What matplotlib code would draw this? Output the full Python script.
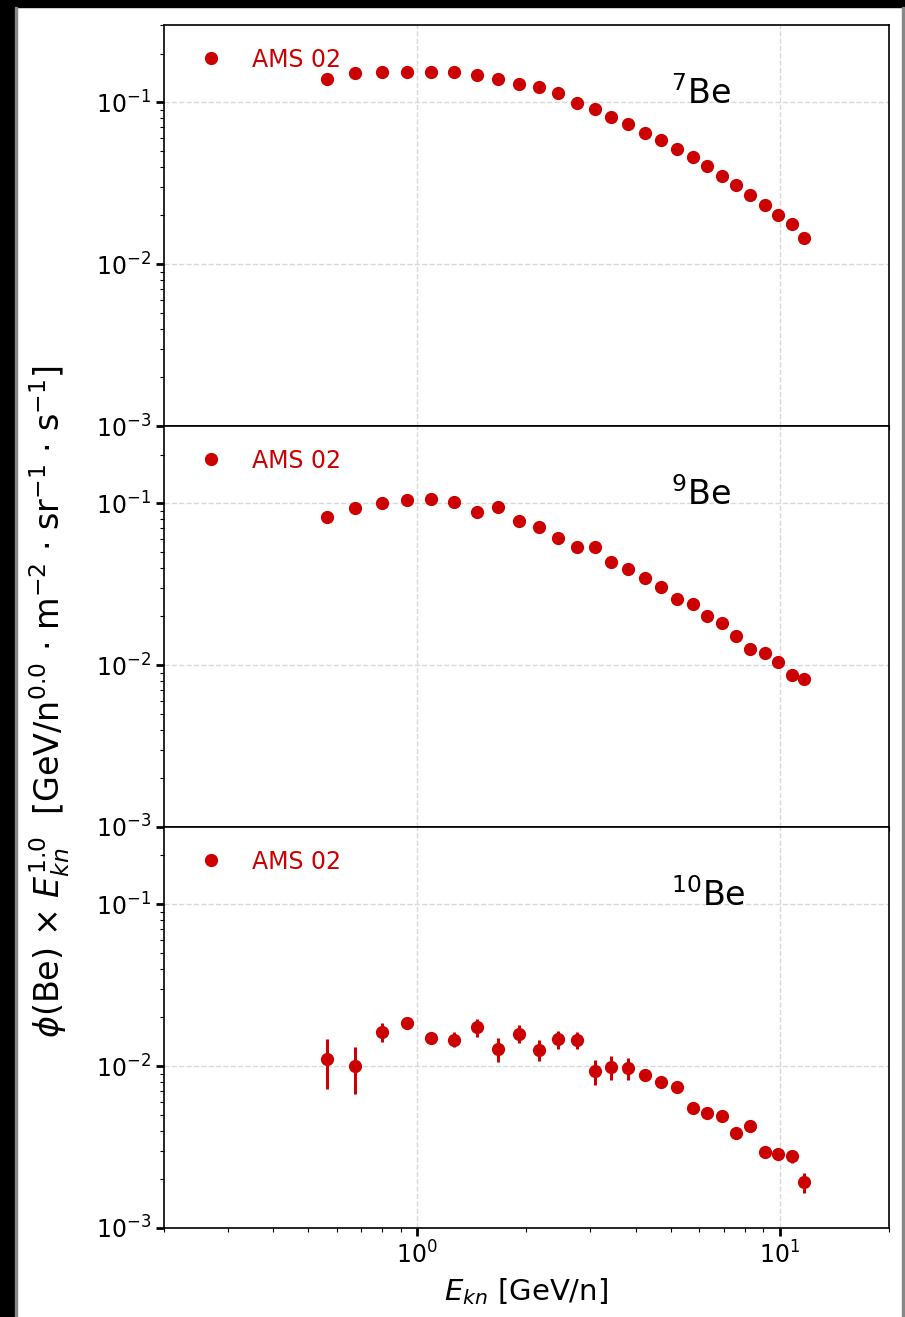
import numpy as np
import matplotlib
matplotlib.use('Agg')
import matplotlib.pyplot as plt
from matplotlib.patches import Rectangle
from matplotlib.lines import Line2D

# kinetic energy per nucleon bins (GeV/n)
E_kn = [0.563, 0.674, 0.800, 0.938, 1.093, 1.263, 1.456, 1.670, 1.905, 2.167,
        2.441, 2.752, 3.082, 3.420, 3.823, 4.252, 4.689, 5.203, 5.749, 6.283,
        6.912, 7.569, 8.272, 9.078, 9.856, 10.78, 11.67]

# AMS-02 flux x E_kn
be7 = [0.1384, 0.1506, 0.1527, 0.1527, 0.1527, 0.1527, 0.1471, 0.1384, 0.1302, 0.1236,
       0.1146, 0.0995, 0.0915, 0.0813, 0.0736, 0.0649, 0.0585, 0.0513, 0.0460, 0.0401,
       0.0350, 0.0307, 0.0268, 0.0231, 0.0201, 0.0176, 0.0145]

be9 = [0.0819, 0.0931, 0.1000, 0.1054, 0.1069, 0.1019, 0.0888, 0.0945, 0.0781, 0.0717,
       0.0610, 0.0540, 0.0540, 0.0436, 0.0394, 0.0347, 0.0302, 0.0256, 0.0238, 0.0202,
       0.0181, 0.0151, 0.0126, 0.0119, 0.01044, 0.00863, 0.00823]

be10 = [0.01099, 0.0100, 0.01614, 0.01843, 0.01489, 0.01454, 0.01732, 0.01273, 0.01576, 0.01255,
        0.01461, 0.01447, 0.00931, 0.00991, 0.00972, 0.00884, 0.00793, 0.00746, 0.00548, 0.00515,
        0.00491, 0.00388, 0.00426, 0.00296, 0.00286, 0.00278, 0.00192]
be10_hi = [0.01468, 0.01316, 0.01834, 0.01900, 0.01629, 0.01614, 0.01960, 0.01482, 0.01782, 0.01447,
           0.01637, 0.01629, 0.01089, 0.01153, 0.01130, 0.00920, 0.00820, 0.00770, 0.00565, 0.00530,
           0.00505, 0.00400, 0.00440, 0.00310, 0.00298, 0.00300, 0.00220]
be10_lo = [0.00721, 0.00675, 0.01413, 0.01790, 0.01367, 0.01316, 0.01503, 0.01063, 0.01380, 0.01079,
           0.01279, 0.01267, 0.00763, 0.00820, 0.00820, 0.00850, 0.00766, 0.00722, 0.00531, 0.00500,
           0.00477, 0.00376, 0.00412, 0.00283, 0.00274, 0.00251, 0.00164]

labels = [r'$^{7}$Be', r'$^{9}$Be', r'$^{10}$Be']
red = '#cc0000'

fig, axes = plt.subplots(3, 1, figsize=(9.05, 13.17), dpi=100, sharex=True)
fig.subplots_adjust(left=0.1812, right=0.9823, top=0.981, bottom=0.0676, hspace=0)

series = [(be7, None), (be9, None),
          (be10, [np.array(be10) - np.array(be10_lo), np.array(be10_hi) - np.array(be10)])]

for ax, (y, yerr), lab in zip(axes, series, labels):
    ax.errorbar(E_kn, y, yerr=yerr, fmt='o', color=red, ms=8.5, elinewidth=2.2,
                capsize=0, zorder=3)
    ax.set_xscale('log')
    ax.set_yscale('log')
    ax.set_xlim(0.2, 20)
    ax.set_ylim(1e-3, 0.3)
    ax.grid(True, which='major', ls='--', color='#d9d9d9', lw=1)
    ax.tick_params(which='major', direction='out', length=6, width=2, labelsize=17)
    ax.tick_params(which='minor', direction='out', length=3, width=0.8)
    for sp in ax.spines.values():
        sp.set_linewidth(1.2)
    ax.text(0.70, 0.83, lab, transform=ax.transAxes, fontsize=24, va='center', ha='left')
    h = Line2D([], [], marker='o', ls='none', color=red, ms=8.5)
    ax.legend([h], ['AMS 02'], loc='upper left', frameon=False, fontsize=17, labelcolor=red,
              bbox_to_anchor=(-0.005, 0.985), handlelength=2.85, handletextpad=0.35,
              borderaxespad=0.3)

axes[-1].set_xlabel(r'$E_{kn}$ [GeV/n]', fontsize=21, labelpad=6)
fig.text(0.055, 1 - 702 / 1317,
         r'$\phi$(Be) $\times$ $E_{kn}^{1.0}$  [GeV/n$^{0.0}$ $\cdot$ m$^{-2}$ $\cdot$ sr$^{-1}$ $\cdot$ s$^{-1}$]',
         rotation=90, va='center', ha='center', fontsize=24)

# screenshot frame
fig.patches.append(Rectangle((0, 0), 15 / 905, 1, transform=fig.transFigure, color='black', zorder=10))
fig.patches.append(Rectangle((0, 1 - 7 / 1317), 1, 7 / 1317, transform=fig.transFigure, color='black', zorder=10))
fig.patches.append(Rectangle((15 / 905, 0), 2 / 905, 1 - 7 / 1317, transform=fig.transFigure, color='#888888', zorder=10))
fig.patches.append(Rectangle((902 / 905, 0), 1.5 / 905, 1 - 7 / 1317, transform=fig.transFigure, color='#888888', zorder=10))

fig.savefig('out.png', dpi=100)
